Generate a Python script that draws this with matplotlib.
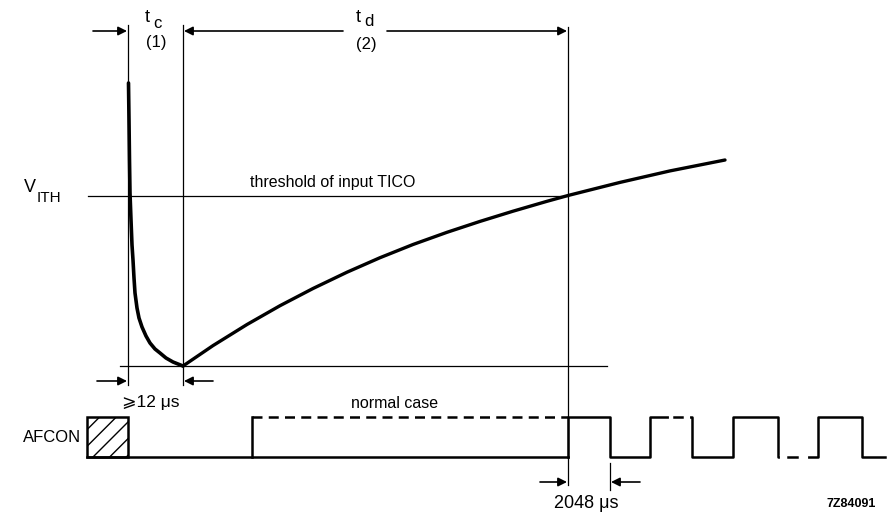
import matplotlib.pyplot as plt
from matplotlib.patches import Rectangle

plt.rcParams['font.family'] = ['Liberation Sans', 'DejaVu Sans']

# drawing units: x to the right, y downwards (origin top-left)
t_start = 128        # supply switched on
t_min = 183          # end of t_c, capacitor fully discharged
t_cross = 568        # curve reaches V_ITH, end of t_d
v_ith = 196          # threshold level
v_zero = 366         # 0 V level

# capacitor voltage: fast discharge during t_c
dis_x = [128.5, 129, 129.5, 130, 131, 132, 133, 134, 135, 137, 139, 142, 146, 150, 155, 160, 166, 173, 178, 183]
dis_y = [83, 120, 160, 193, 220, 245, 260, 278, 293, 308, 318, 327, 336, 343, 349, 353, 358, 362, 364, 366]
# slow recharge during t_d
chg_x = [183, 213, 247, 280, 313, 347, 380, 413, 447, 480, 513, 547, 568, 620, 670, 725]
chg_y = [366, 345.6, 324.5, 305.7, 288.5, 272.2, 257.7, 244.5, 232.3, 221.4, 211.2, 201.3, 195.5,
         182.4, 170.9, 160]

# AFCON signal levels
hi, lo = 417, 457
pulse_edges = [568, 610, 650, 692, 733, 778, 818, 862, 885]

fig = plt.figure(figsize=(8.95, 5.13), dpi=100)
ax = fig.add_axes([0, 0, 1, 1])
ax.set_xlim(0, 895)
ax.set_ylim(513, 0)
ax.axis('off')

k = 'black'
thin = 0.9

# vertical markers
ax.plot([t_start, t_start], [25, 385], color=k, lw=thin)
ax.plot([t_min, t_min], [25, 385], color=k, lw=thin)
ax.plot([t_cross, t_cross], [27, 485], color=k, lw=thin)

# threshold and zero lines
ax.plot([88, t_cross], [v_ith, v_ith], color=k, lw=thin)
ax.plot([120, 607], [v_zero, v_zero], color=k, lw=thin)

# capacitor voltage curve
ax.plot(dis_x, dis_y, color=k, lw=2.6, solid_capstyle='round', solid_joinstyle='round')
ax.plot(chg_x, chg_y, color=k, lw=2.4, solid_capstyle='round', solid_joinstyle='round')

arr = dict(arrowstyle='-|>', color=k, lw=1.2, mutation_scale=13, shrinkA=0, shrinkB=0)


def arrow(x0, y0, x1, y1):
    ax.annotate('', xy=(x1, y1), xytext=(x0, y0), arrowprops=arr)


# t_c and t_d arrows
arrow(93, 31, t_start - 1, 31)
arrow(343, 31, t_min + 1, 31)
arrow(387, 31, t_cross - 1, 31)

# >=12 us arrows
arrow(97, 381, t_start - 1, 381)
arrow(213, 381, t_min + 1, 381)

# 2048 us arrows and marker
ax.plot([610, 610], [463, 490], color=k, lw=thin)
arrow(540, 482, t_cross - 1, 482)
arrow(640, 482, 611, 482)

# AFCON: hatched undefined part
ax.add_patch(Rectangle((87, hi), t_start - 87, lo - hi, facecolor='white',
                       edgecolor=k, lw=1.8, hatch='//'))
ax.plot([87, t_cross], [lo, lo], color=k, lw=1.8)
ax.plot([252, 252], [lo, hi], color=k, lw=1.8)
ax.plot([252, t_cross], [hi, hi], color=k, lw=1.8, ls=(0, (4, 2.5)))

# AFCON pulse train after t_d
px, py = [t_cross], [lo]
level = hi
for i, e in enumerate(pulse_edges):
    if i < len(pulse_edges) - 1:
        px += [e, e]
        py += [py[-1], level]
        level = lo if level == hi else hi
    else:
        px += [e]
        py += [py[-1]]
ax.plot(px, py, color=k, lw=1.8)
# gaps in the train (time skipped)
ax.plot([671, 688], [hi, hi], color='white', lw=3)
ax.plot([674, 682], [hi, hi], color=k, lw=1.8)
ax.plot([782, 806], [lo, lo], color='white', lw=3)
ax.plot([788, 797], [lo, lo], color=k, lw=1.8)

# labels
ax.text(145, 17, 't', fontsize=13, ha='left', va='center')
ax.text(153, 24, 'c', fontsize=12, ha='left', va='center')
ax.text(156, 43, '(1)', fontsize=12, ha='center', va='center')
ax.text(356, 17, 't', fontsize=13, ha='left', va='center')
ax.text(364, 22, 'd', fontsize=12, ha='left', va='center')
ax.text(366, 45, '(2)', fontsize=12, ha='center', va='center')

ax.text(24, 187, 'V', fontsize=13, ha='left', va='center')
ax.text(37, 198, 'ITH', fontsize=11, ha='left', va='center')
ax.text(333, 182, 'threshold of input TICO', fontsize=11.5, ha='center', va='center')

ax.text(151, 403, '\u2a7e12 \u03bcs', fontsize=12.5, ha='center', va='center')
ax.text(395, 404, 'normal case', fontsize=11.5, ha='center', va='center')
ax.text(52, 437, 'AFCON', fontsize=12, ha='center', va='center')
ax.text(586, 503, '2048 \u03bcs', fontsize=13, ha='center', va='center')
ax.text(851, 504, '7Z84091', fontsize=9, fontweight='bold', ha='center', va='center')

fig.savefig('out.png', dpi=100)
